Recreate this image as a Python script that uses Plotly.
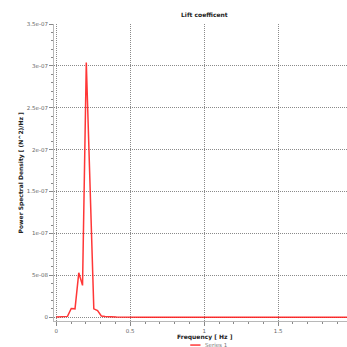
import plotly.graph_objects as go

# Spectrum of the lift coefficient signal
freq_hz = [0.0, 0.0254, 0.0508, 0.0762, 0.1016, 0.127, 0.1524, 0.1778, 0.2032,
           0.2286, 0.254, 0.2794, 0.3048, 0.3302, 0.3556, 0.381, 0.4064,
           0.6, 1.0, 1.5, 2.0]
psd = [2e-10, 2e-10, 3e-10, 1e-9, 1.05e-8, 1.0e-8, 5.3e-8, 3.8e-8, 3.04e-7,
       1.57e-7, 1.0e-8, 8.0e-9, 1.5e-9, 1.0e-9, 6e-10, 3e-10, 2e-10,
       1e-10, 1e-10, 1e-10, 1e-10]

y_tick_vals = [0, 5e-8, 1e-7, 1.5e-7, 2e-7, 2.5e-7, 3e-7, 3.5e-7]
y_tick_text = ["0", "5e-08", "1e-07", "1.5e-07", "2e-07", "2.5e-07", "3e-07", "3.5e-07"]
x_tick_vals = [0, 0.5, 1, 1.5]
x_tick_text = ["0", "0.5", "1", "1.5"]

series_name = "Series 1"
line_color = "rgba(255,20,20,0.85)"
font_family = "DejaVu Sans"
grid_color = "#8a8a8a"
tick_color = "#666666"

fig = go.Figure()
fig.add_trace(go.Scatter(
    x=freq_hz, y=psd, mode="lines", name=series_name,
    line=dict(color=line_color, width=1.5),
    showlegend=False,
))

axis_common = dict(
    showgrid=True, gridcolor=grid_color, gridwidth=1, griddash="1px,1px",
    zeroline=False, showline=True, linecolor="#b8b8b8", linewidth=1,
    ticks="outside", ticklen=4, tickcolor="#888888", tickwidth=1,
    tickfont=dict(family=font_family, size=5.5, color=tick_color),
)

fig.update_xaxes(
    range=[-0.015, 1.965], tickvals=x_tick_vals, ticktext=x_tick_text,
    minor=dict(dtick=0.1, ticks="outside", ticklen=2, tickcolor="#888888", showgrid=False),
    **axis_common,
)
fig.update_yaxes(
    range=[-0.045e-7, 3.5e-7], tickvals=y_tick_vals, ticktext=y_tick_text,
    minor=dict(dtick=1e-8, ticks="outside", ticklen=2, tickcolor="#888888", showgrid=False),
    **axis_common,
)

title_font = dict(family=font_family, size=6, color="#222222")
fig.update_layout(
    width=347, height=347,
    margin=dict(l=54, r=0, t=24, b=26, autoexpand=False),
    paper_bgcolor="white", plot_bgcolor="white",
    showlegend=False,
    annotations=[
        dict(text="<b>Lift coefficent</b>", xref="paper", yref="paper",
             x=0.515, y=1.0, yshift=10, showarrow=False, font=title_font,
             xanchor="center", yanchor="middle"),
        dict(text="<b>Frequency [ Hz ]</b>", xref="paper", yref="paper",
             x=0.515, y=0, yshift=-16, showarrow=False, font=title_font,
             xanchor="center", yanchor="middle"),
        dict(text="<b>Power Spectral Density [ (N^2)/Hz ]</b>", xref="paper", yref="paper",
             x=0, xshift=-34, y=0.5, showarrow=False, font=title_font, textangle=-90,
             xanchor="center", yanchor="middle"),
        dict(text=series_name, xref="paper", yref="paper",
             x=0.508, y=0, yshift=-24, showarrow=False,
             font=dict(family=font_family, size=5.5, color="#777777"),
             xanchor="left", yanchor="middle"),
    ],
    shapes=[
        dict(type="line", xref="paper", yref="paper",
             x0=0.465, x1=0.5, y0=-0.081, y1=-0.081,
             line=dict(color=line_color, width=1.5)),
    ],
)

fig.write_html("out.html")
